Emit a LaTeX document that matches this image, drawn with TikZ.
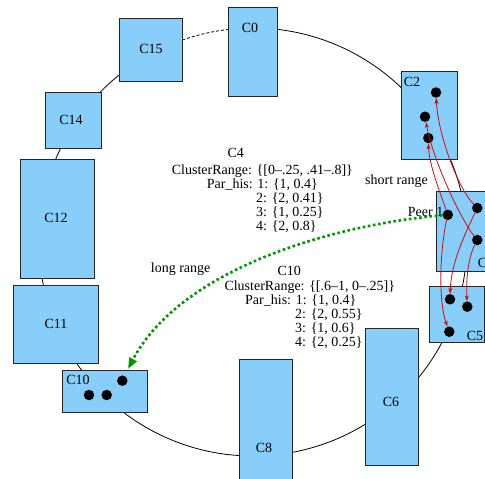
\documentclass[tikz,border=0pt]{standalone}
\usepackage{fontspec}
\setmainfont{Liberation Serif}
\usetikzlibrary{arrows.meta}
\definecolor{boxblue}{RGB}{135,206,250}
\definecolor{arrred}{RGB}{210,10,10}
\definecolor{dotgreen}{RGB}{0,150,0}
\begin{document}
\begin{tikzpicture}[x=1pt,y=-1pt,
  box/.style={draw=black!85, line width=0.9pt, fill=boxblue, rectangle, inner sep=0pt, anchor=north west},
  lbl/.style={inner sep=0pt, font=\fontsize{14}{14}\selectfont, anchor=base},
  txt/.style={inner sep=0pt, font=\fontsize{14}{14}\selectfont, anchor=base west},
  dot/.style={circle, fill=black, inner sep=0pt, minimum size=10.5pt},
  ring/.style={line width=0.8pt},
  redarr/.style={draw=arrred, line width=0.8pt, -{Stealth[length=6pt,width=4pt]}},
  greenarr/.style={draw=dotgreen, line width=2.6pt, dash pattern=on 2.6pt off 2.6pt, -{Triangle[length=11pt,width=8pt]}}
]
\useasboundingbox (0,0) rectangle (485,479);
\clip (0,0) rectangle (485,479);
% ring
\coordinate (ringc) at (253,242);
\draw[ring] (ringc) ++(-96.7:214) arc[start angle=-96.7, end angle=250.7, radius=214];
\draw[ring, dash pattern=on 3pt off 2pt] (ringc) ++(-109.3:214) arc[start angle=-109.3, end angle=-96.7, radius=214];
% boxes
\node[box, minimum width=49, minimum height=89] (c0) at (228,7) {};
\node[box, minimum width=63, minimum height=63] (c15) at (119,18) {};
\node[box, minimum width=56, minimum height=56] (c14) at (45,92) {};
\node[box, minimum width=74, minimum height=119] (c12) at (20,159) {};
\node[box, minimum width=85, minimum height=78] (c11) at (13,285) {};
\node[box, minimum width=85, minimum height=42] (c10) at (62,370) {};
\node[box, minimum width=53, minimum height=150] (c8) at (239,359) {};
\node[box, minimum width=53, minimum height=137] (c6) at (365,328) {};
\node[box, minimum width=55, minimum height=56] (c5) at (429,286) {};
\node[box, minimum width=64, minimum height=80] (c4) at (436,191) {};
\node[box, minimum width=56, minimum height=88] (c2) at (401,71) {};
% box labels
\node[lbl] (l0) at (250,32) {C0};
\node[lbl] (l15) at (151,53) {C15};
\node[lbl] (l14) at (71,124) {C14};
\node[lbl] (l12) at (56,222) {C12};
\node[lbl] (l11) at (56,328) {C11};
\node[lbl] (l10) at (78,384) {C10};
\node[lbl] (l8) at (264,452) {C8};
\node[lbl] (l6) at (391,406) {C6};
\node[lbl] (l5) at (475,340) {C5};
\node[lbl] (l4) at (486,267) {C4};
\node[lbl] (l2) at (412,86) {C2};
% dots
\node[dot] (c2a) at (436,92.5) {};
\node[dot] (c2b) at (425,116.7) {};
\node[dot] (c2c) at (428.3,138) {};
\node[dot] (p1) at (447.8,214.8) {};
\node[dot] (da) at (477.3,208) {};
\node[dot] (db) at (477.3,240) {};
\node[dot] (c5a) at (450,299.3) {};
\node[dot] (c5b) at (467.3,306.7) {};
\node[dot] (c5c) at (449.3,331.7) {};
\node[dot] (c10a) at (122.3,380.7) {};
\node[dot] (c10b) at (89,395) {};
\node[dot] (c10c) at (106.7,395) {};
% texts
\node[txt] (peer) at (407.7,216) {Peer 1};
\node[txt] (short) at (365,184) {short range};
\node[txt] (long) at (150.7,272.3) {long range};
\node[lbl] (t4) at (235.7,157.3) {C4};
\node[txt] (t4a) at (171.7,174) {ClusterRange: \{[0–.25, .41–.8]\}};
\node[txt] (t4b) at (206.7,188) {Par\_his: 1: \{1, 0.4\}};
\node[txt] (t4c) at (256,202) {2: \{2, 0.41\}};
\node[txt] (t4d) at (256,216) {3: \{1, 0.25\}};
\node[txt] (t4e) at (256,230) {4: \{2, 0.8\}};
\node[lbl] (t10) at (289.2,275.7) {C10};
\node[txt] (t10a) at (224.3,290) {ClusterRange: \{[.6–1, 0–.25]\}};
\node[txt] (t10b) at (245,304) {Par\_his: 1: \{1, 0.4\}};
\node[txt] (t10c) at (295,318) {2: \{2, 0.55\}};
\node[txt] (t10d) at (295,332) {3: \{1, 0.6\}};
\node[txt] (t10e) at (295,346) {4: \{2, 0.25\}};
% red arrows
\draw[redarr] (p1) .. controls (441,195) and (429,165) .. (c2c);
\draw[redarr] (da) .. controls (458,188) and (438,135) .. (c2a);
\draw[redarr] (db) .. controls (460,218) and (433,160) .. (c2b);
\draw[redarr] (p1) .. controls (440,250) and (438,300) .. (c5c);
\draw[redarr] (da) .. controls (462,240) and (451,265) .. (c5a);
\draw[redarr] (db) .. controls (468,258) and (466,280) .. (c5b);
% green long range arrow
\coordinate (gend) at (128,369);
\draw[greenarr] (p1) .. controls (330,225) and (180,270) .. (gend);
\end{tikzpicture}
\end{document}
